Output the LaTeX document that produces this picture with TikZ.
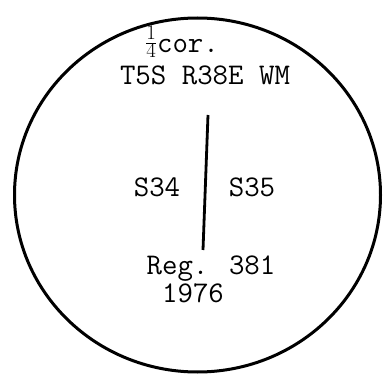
\documentclass[tikz,border=0pt]{standalone}
\usepackage{fontspec}
\begin{document}
\begin{tikzpicture}[x=1pt,y=-1pt,
  lbl/.style={inner sep=0pt,anchor=base,font=\fontsize{30}{32}\selectfont\ttfamily},
  rim/.style={line width=3pt},
  divider/.style={line width=2.8pt}]
\useasboundingbox (0,0) rectangle (391,374);
\draw[rim] (197.5,195) ellipse [x radius=183, y radius=177];
\node[lbl] (cor) at (182,53) {\raisebox{4pt}{$\frac{1}{4}$}cor.};
\node[lbl] (twp) at (205,85) {T5S R38E WM};
\node[lbl] (s34) at (157,197) {S34};
\node[lbl] (s35) at (252,197) {S35};
\node[lbl] (reg) at (211,275) {Reg. 381};
\node[lbl] (yr) at (193,302) {1976};
\coordinate (ltop) at (208,115);
\coordinate (lbot) at (203,250);
\draw[divider] (ltop) -- (lbot);
\end{tikzpicture}
\end{document}
